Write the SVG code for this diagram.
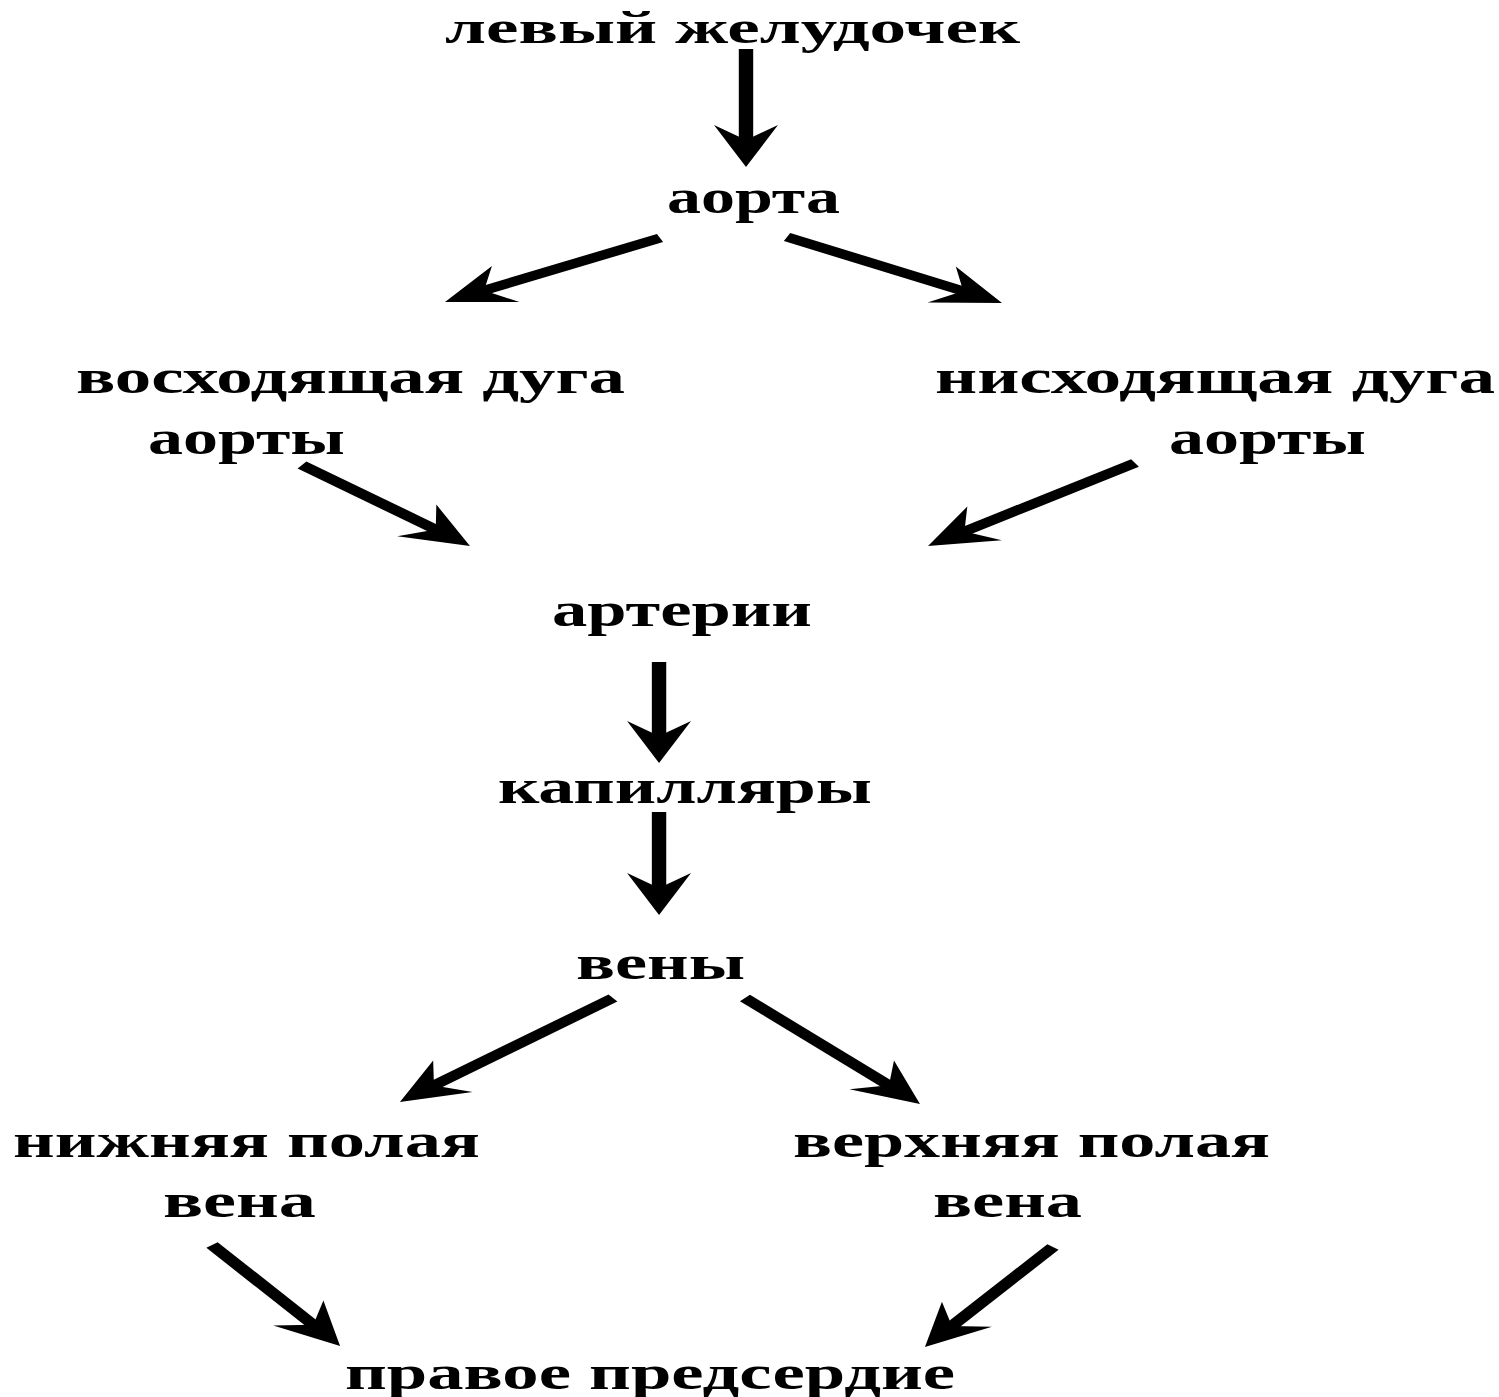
<svg xmlns="http://www.w3.org/2000/svg" width="1499" height="1397" viewBox="0 0 1499 1397">
<style>
.t{font-family:"Liberation Serif","DejaVu Serif",serif;font-weight:bold;font-size:48px;fill:#000}
.top{font-size:47px}
.a{stroke:#000;stroke-width:9;fill:none;marker-end:url(#ah)}
</style>
<defs>
<marker id="ah" markerUnits="userSpaceOnUse" markerWidth="42" markerHeight="40" refX="21" refY="20" orient="auto" overflow="visible">
<path d="M0,0 L15,20 L0,40 L42,20 Z" fill="#000"/>
</marker>
</defs>
<rect width="1499" height="1397" fill="#fff"/>
<g id="connectors" transform="scale(1.6,1)">
<line class="a" x1="466.25" y1="49" x2="466.25" y2="146"/>
<line class="a" x1="412.5" y1="238" x2="297.1" y2="293"/>
<line class="a" x1="491.9" y1="237" x2="607.4" y2="293.7"/>
<line class="a" x1="188.75" y1="465" x2="277.1" y2="533.2"/>
<line class="a" x1="709.4" y1="463" x2="597.7" y2="534.7"/>
<line class="a" x1="411.9" y1="662" x2="411.9" y2="742"/>
<line class="a" x1="411.9" y1="812" x2="411.9" y2="894"/>
<line class="a" x1="383.1" y1="998" x2="266.5" y2="1089.1"/>
<line class="a" x1="465.6" y1="998" x2="559.9" y2="1089.4"/>
<line class="a" x1="132.5" y1="1245" x2="199.5" y2="1329.5"/>
<line class="a" x1="658.1" y1="1247" x2="591.2" y2="1330.6"/>
</g>
<g id="n-lv"><text class="t top" x="445" y="43" textLength="575" lengthAdjust="spacingAndGlyphs">левый желудочек</text></g>
<g id="n-aorta"><text class="t" x="667" y="213" textLength="173" lengthAdjust="spacingAndGlyphs">аорта</text></g>
<g id="n-asc"><text class="t" x="76" y="393" textLength="549" lengthAdjust="spacingAndGlyphs">восходящая дуга</text><text class="t" x="148" y="454" textLength="197" lengthAdjust="spacingAndGlyphs">аорты</text></g>
<g id="n-desc"><text class="t" x="935" y="393" textLength="560" lengthAdjust="spacingAndGlyphs">нисходящая дуга</text><text class="t" x="1169" y="454" textLength="197" lengthAdjust="spacingAndGlyphs">аорты</text></g>
<g id="n-art"><text class="t" x="552" y="626" textLength="260" lengthAdjust="spacingAndGlyphs">артерии</text></g>
<g id="n-cap"><text class="t" x="498" y="803" textLength="374" lengthAdjust="spacingAndGlyphs">капилляры</text></g>
<g id="n-veins"><text class="t" x="576" y="979" textLength="169" lengthAdjust="spacingAndGlyphs">вены</text></g>
<g id="n-ivc"><text class="t" x="13" y="1157" textLength="467" lengthAdjust="spacingAndGlyphs">нижняя полая</text><text class="t" x="163" y="1217" textLength="153" lengthAdjust="spacingAndGlyphs">вена</text></g>
<g id="n-svc"><text class="t" x="793" y="1157" textLength="477" lengthAdjust="spacingAndGlyphs">верхняя полая</text><text class="t" x="933" y="1217" textLength="149" lengthAdjust="spacingAndGlyphs">вена</text></g>
<g id="n-ra"><text class="t" x="345" y="1389" textLength="610" lengthAdjust="spacingAndGlyphs">правое предсердие</text></g>
</svg>
